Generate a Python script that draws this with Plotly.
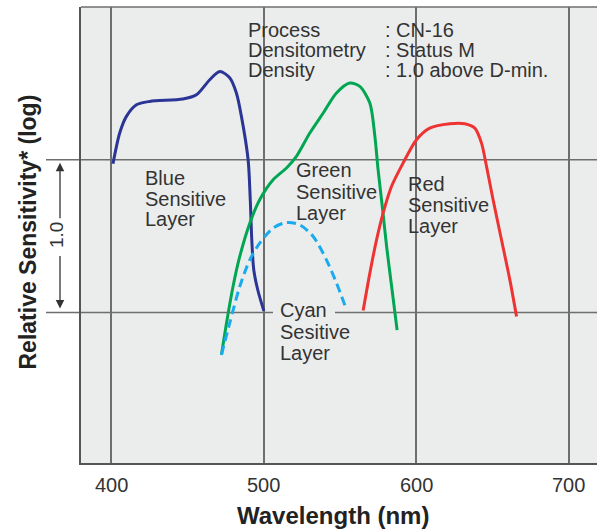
import plotly.graph_objects as go

# ---- data ----
blue_x = [401.0, 405.4, 409.8, 416.4, 425.1, 446.8, 455.8, 464.5, 471.1, 477.6, 482.0, 485.3, 489.7, 491.1, 492.1, 493.4, 496.0, 500.0]
blue_y = [0.974, 1.175, 1.284, 1.360, 1.382, 1.398, 1.426, 1.524, 1.578, 1.537, 1.437, 1.284, 1.0, 0.738, 0.476, 0.280, 0.149, 0.011]

green_x = [472.2, 475.5, 479.8, 484.2, 490.8, 497.3, 506.1, 514.9, 521.4, 530.2, 539.0, 547.7, 556.5, 563.0, 569.6, 572.9, 575.0, 578.0, 580.6, 583.9, 587.5]
green_y = [-0.277, -0.07, 0.17, 0.367, 0.585, 0.738, 0.869, 0.946, 1.022, 1.175, 1.306, 1.437, 1.502, 1.480, 1.371, 1.153, 0.935, 0.673, 0.432, 0.170, -0.115]

cyan_x = [472.2, 477.6, 484.2, 490.8, 497.3, 506.1, 514.9, 523.6, 532.4, 541.1, 547.7, 554.3]
cyan_y = [-0.277, -0.07, 0.17, 0.345, 0.454, 0.553, 0.589, 0.574, 0.498, 0.345, 0.193, 0.018]

red_x = [565.2, 569.6, 574.0, 578.3, 583.8, 591.4, 600.2, 608.9, 622.1, 631.9, 638.5, 642.9, 646.2, 650.5, 656.0, 661.5, 665.9]
red_y = [0.013, 0.258, 0.476, 0.651, 0.825, 0.978, 1.131, 1.207, 1.236, 1.236, 1.207, 1.109, 0.956, 0.738, 0.476, 0.214, -0.026]

x_ticks = [400, 500, 600, 700]
ref_levels = [0.0, 1.0]

header_keys = ["Process", "Densitometry", "Density"]
header_vals = [": CN-16", ": Status M", ": 1.0 above D-min."]
blue_label = ["Blue", "Sensitive", "Layer"]
green_label = ["Green", "Sensitive", "Layer"]
red_label = ["Red", "Sensitive", "Layer"]
cyan_label = ["Cyan", "Sesitive", "Layer"]

# ---- styling ----
BG = "#ebeded"
GRID = "#6e6e6e"
TXT = "#333333"
FONT = "Liberation Sans, Arial, sans-serif"
W, H = 597, 531
ML, MR, MT, MB = 81, 0, 7, 68
PW, PH = W - ML - MR, H - MT - MB

fig = go.Figure()
common = dict(mode="lines", line_shape="spline", hoverinfo="skip", showlegend=False)
fig.add_trace(go.Scatter(x=blue_x, y=blue_y, line=dict(color="#2b3595", width=3, smoothing=0.8), **common))
fig.add_trace(go.Scatter(x=green_x, y=green_y, line=dict(color="#00a651", width=3, smoothing=0.8), **common))
fig.add_trace(go.Scatter(x=cyan_x, y=cyan_y, line=dict(color="#1aabee", width=3, dash="9px,5px", smoothing=0.8), **common))
fig.add_trace(go.Scatter(x=red_x, y=red_y, line=dict(color="#ee3333", width=3, smoothing=0.8), **common))


def px2paper_x(px):
    return (px - ML) / PW


def px2paper_y(py):
    return (H - MB - py) / PH


shapes = []
for lv in ref_levels:
    shapes.append(dict(type="line", xref="paper", yref="y", x0=px2paper_x(46), x1=1, y0=lv, y1=lv,
                       line=dict(color=GRID, width=1.5), layer="between"))
shapes.append(dict(type="line", xref="paper", yref="paper", x0=0, x1=1, y0=1, y1=1,
                   line=dict(color=GRID, width=1.5), layer="between"))
boxes = [(px2paper_x(245), px2paper_x(560), px2paper_y(86), px2paper_y(16)),
         (px2paper_x(404), px2paper_x(495), px2paper_y(243), px2paper_y(163)),
         (px2paper_x(273), px2paper_x(335), px2paper_y(300), px2paper_y(325))]
for x0, x1, y0, y1 in boxes:
    shapes.append(dict(type="rect", xref="paper", yref="paper", x0=x0, x1=x1, y0=y0, y1=y1,
                       fillcolor=BG, line=dict(width=0), layer="between"))

annotations = []


def add_lines(lines, left_px, baselines, size=20):
    for t, b in zip(lines, baselines):
        annotations.append(dict(text=t, xref="paper", yref="paper", x=px2paper_x(left_px),
                                y=px2paper_y(b + 5), xanchor="left", yanchor="bottom", borderpad=0,
                                showarrow=False, font=dict(family=FONT, size=size, color=TXT)))


add_lines(header_keys, 247, [37.0, 57.0, 77.0])
add_lines(header_vals, 384, [37.0, 57.0, 77.0])
add_lines(blue_label, 144, [185, 205.5, 226])
add_lines(green_label, 295, [177.3, 198.8, 220.3])
add_lines(red_label, 407, [190.7, 211.7, 232.7])
add_lines(cyan_label, 279, [317, 338.5, 360])

# x tick labels placed as text under each gridline
for v in x_ticks:
    annotations.append(dict(text=str(v), xref="x", yref="paper", x=v, y=px2paper_y(485),
                            xanchor="center", yanchor="middle", showarrow=False,
                            font=dict(family=FONT, size=20, color=TXT)))

ax_px = 60
annotations.append(dict(text="", xref="paper", yref="y", x=px2paper_x(ax_px), y=ref_levels[1],
                        ax=0, ay=60, axref="pixel", ayref="pixel", showarrow=True, arrowhead=2,
                        arrowsize=1.3, arrowwidth=1.3, arrowcolor="#333", standoff=3))
annotations.append(dict(text="", xref="paper", yref="y", x=px2paper_x(ax_px), y=ref_levels[0],
                        ax=0, ay=-58, axref="pixel", ayref="pixel", showarrow=True, arrowhead=2,
                        arrowsize=1.3, arrowwidth=1.3, arrowcolor="#333", standoff=4))
annotations.append(dict(text="1.0", xref="paper", yref="paper", x=px2paper_x(56), y=px2paper_y(235),
                        textangle=-90, showarrow=False, xanchor="center", yanchor="middle",
                        font=dict(family=FONT, size=19, color=TXT)))
annotations.append(dict(text="<b>Relative Sensitivity* (log)</b>", xref="paper", yref="paper",
                        x=px2paper_x(28), y=px2paper_y(232.5), textangle=-90, showarrow=False,
                        xanchor="center", yanchor="middle", font=dict(family=FONT, size=23, color="#222")))
annotations.append(dict(text="<b>Wavelength (nm)</b>", xref="paper", yref="paper",
                        x=px2paper_x(333.3), y=px2paper_y(515), showarrow=False,
                        xanchor="center", yanchor="middle", font=dict(family=FONT, size=24, color="#222")))

fig.update_layout(
    width=W, height=H, margin=dict(l=ML, r=MR, t=MT, b=MB),
    paper_bgcolor="white", plot_bgcolor=BG,
    shapes=shapes, annotations=annotations,
    xaxis=dict(range=[380, 718.7], tickvals=x_ticks, showticklabels=False,
               showgrid=True, gridcolor=GRID, gridwidth=1.5, zeroline=False, automargin=False,
               showline=True, linecolor="#555", linewidth=1.5, ticks="", fixedrange=True),
    yaxis=dict(range=[-0.985, 2.0], showgrid=False, zeroline=False, showticklabels=False, automargin=False,
               showline=True, linecolor="#555", linewidth=1.5, ticks="", fixedrange=True),
)

fig.write_html("out.html", config={"displayModeBar": False},
               post_script="document.body.style.margin='0px';document.body.style.overflow='hidden';")
